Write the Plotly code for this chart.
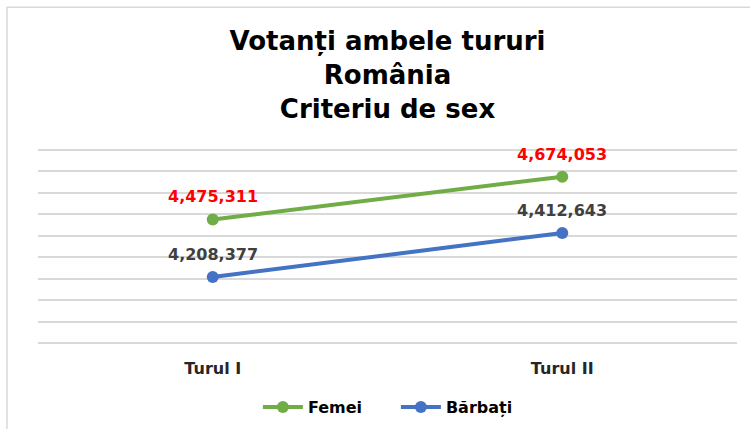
import plotly.graph_objects as go

categories = ["Turul I", "Turul II"]
femei = [4475311, 4674053]
barbati = [4208377, 4412643]
series_names = ["Femei", "Bărbați"]
title_lines = ["Votanți ambele tururi", "România", "Criteriu de sex"]

FONT = "DejaVu Sans"
GREEN = "#70AD47"
BLUE = "#4472C4"

fig = go.Figure()
fig.add_trace(go.Scatter(
    x=categories, y=femei, name=series_names[0], mode="lines+markers",
    line=dict(color=GREEN, width=4), marker=dict(color=GREEN, size=12),
))
fig.add_trace(go.Scatter(
    x=categories, y=barbati, name=series_names[1], mode="lines+markers",
    line=dict(color=BLUE, width=4), marker=dict(color=BLUE, size=12),
))

for vals, col in ((femei, "#FF0000"), (barbati, "#404040")):
    for c, v in zip(categories, vals):
        fig.add_annotation(
            x=c, y=v, text=f"{v:,}", showarrow=False,
            yanchor="bottom", yshift=11,
            font=dict(family=FONT, size=16, color=col, weight="bold"),
        )

fig.add_shape(
    type="rect", xref="paper", yref="paper",
    x0=-0.0443, x1=1.2, y0=-0.6, y1=1.715,
    line=dict(color="#D9D9D9", width=1.5), fillcolor="rgba(0,0,0,0)",
    layer="below",
)

fig.update_layout(
    width=750, height=429,
    margin=dict(l=38, r=13, t=148, b=84, autoexpand=False),
    paper_bgcolor="white", plot_bgcolor="white",
    title=dict(
        text="<br>".join(title_lines),
        x=0.5, xref="paper", xanchor="center",
        y=1 - 50 / 429, yref="container", yanchor="top",
        font=dict(family=FONT, size=26, color="#000000", weight="bold"),
    ),
    xaxis=dict(
        type="category", range=[-0.5, 1.5], showgrid=False,
        showline=False, zeroline=False, ticks="", automargin=False,
        tickfont=dict(family=FONT, size=16, color="#262626", weight="bold"),
        ticklabelstandoff=12,
    ),
    yaxis=dict(
        range=[3893000, 4807000], dtick=100000, tick0=3900000,
        showgrid=True, gridcolor="#D9D9D9", gridwidth=1.5, automargin=False,
        showticklabels=False, zeroline=False, showline=False,
    ),
    legend=dict(
        orientation="h", x=0.512, xanchor="center",
        y=22 / 429, yref="container", yanchor="middle",
        font=dict(family=FONT, size=16, color="#000000", weight="bold"),
        itemwidth=40, entrywidth=83, entrywidthmode="pixels",
    ),
    showlegend=True,
)

fig.write_html(
    "out.html",
    config={"displayModeBar": False},
    post_script="document.body.style.margin='0';",
)
